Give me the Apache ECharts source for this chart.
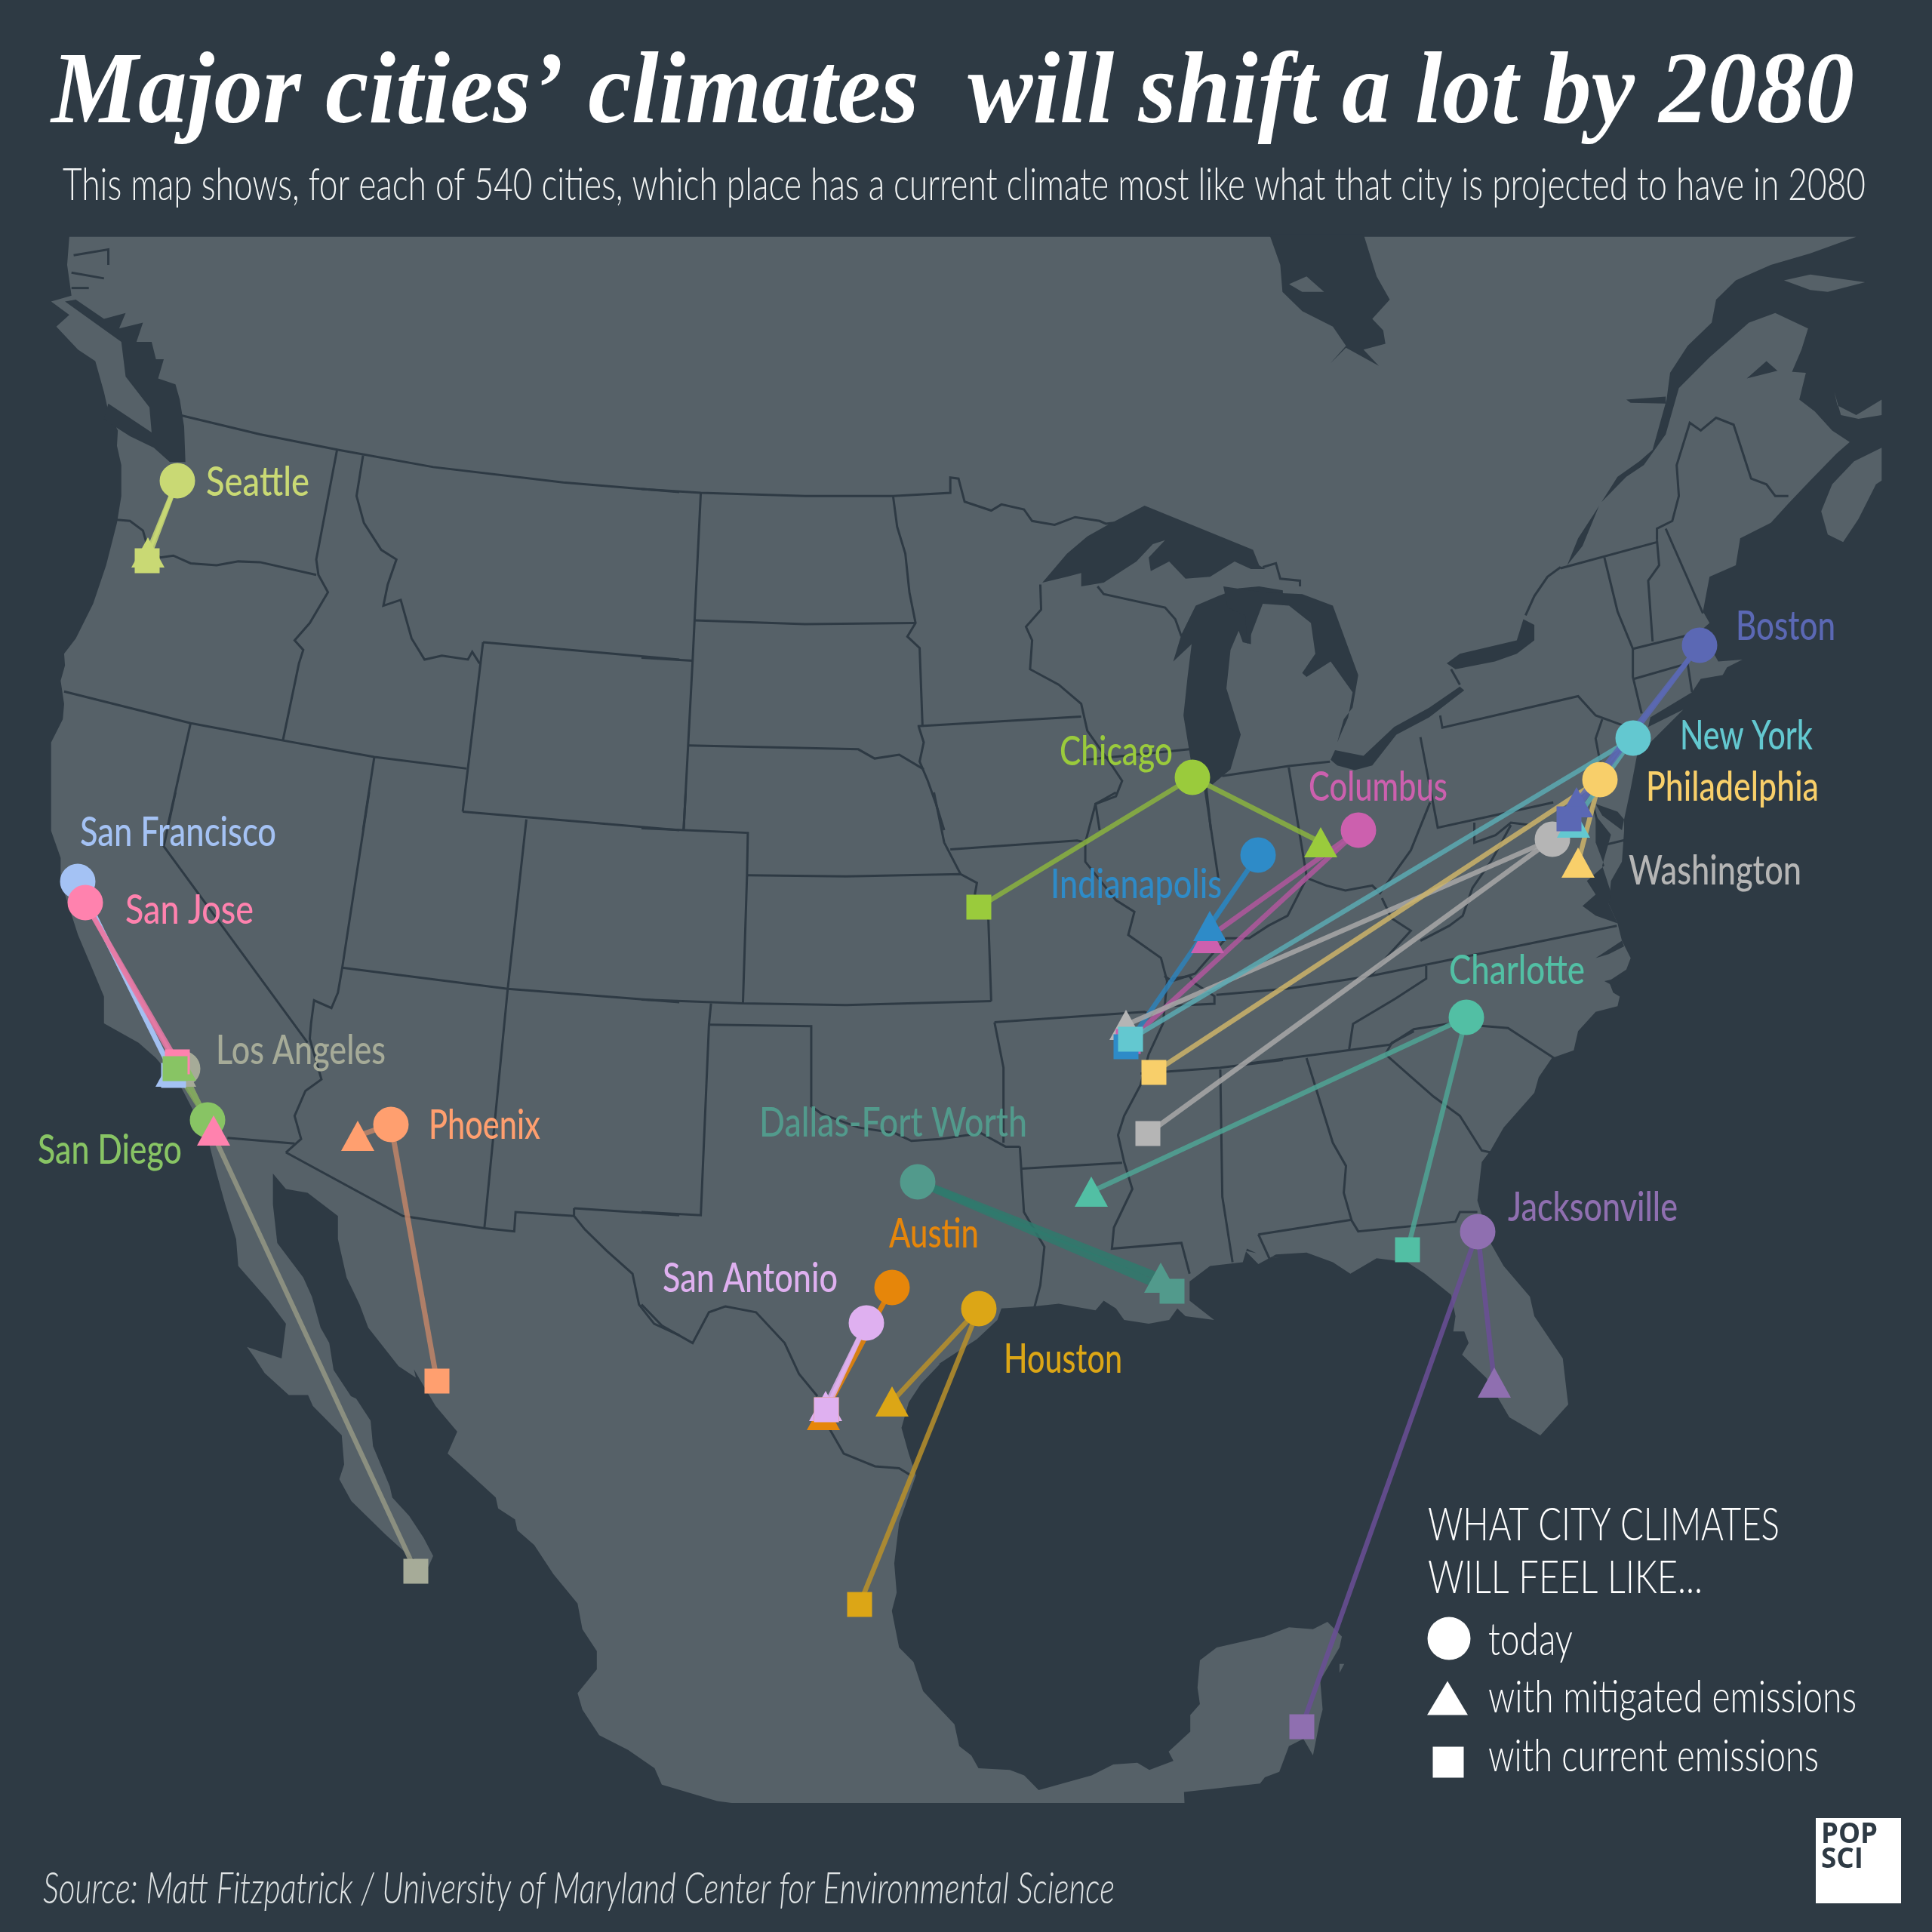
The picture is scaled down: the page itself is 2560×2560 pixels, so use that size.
<!DOCTYPE html>
<html><head><meta charset="utf-8">
<style>html,body{margin:0;padding:0;background:#2e3a44}#c{width:2560px;height:2560px}</style>
<script src="https://cdn.jsdelivr.net/npm/echarts@6/dist/echarts.min.js"></script>
</head><body><div id="c"></div>
<script>
// ---------- city data (map-plane units, 2560 wide) ----------
const cities = ['San Francisco','San Jose','Los Angeles','San Diego','Seattle','Phoenix','Dallas-Fort Worth','Houston','Austin','San Antonio','Jacksonville','Charlotte','Chicago','Columbus','Indianapolis','Washington','Philadelphia','New York','Boston'];
const todayPts = [[103,1168],[113,1196],[242,1416],[275,1484],[235,637],[518,1490],[1216,1566],[1297,1734],[1182,1706],[1148,1753],[1958,1632],[1943,1348],[1580,1030],[1800,1100],[1667,1133],[2057,1112],[2120,1033],[2164,978],[2252,855]];
const mitigatedPts = [[228,1420],[283,1498],[238,1420],[238,1412],[196,732],[474,1505],[1538,1693],[1182,1857],[1091,1875],[1094,1863],[1980,1832],[1446,1579],[1750,1116],[1600,1243],[1603,1227],[1492,1358],[2091,1143],[2085,1090],[2089,1063]];
const currentPts = [[230,1425],[235,1407],[551,2082],[232,1416],[195,743],[579,1830],[1553,1711],[1139,2126],[1095,1868],[1095,1868],[1725,2288],[1865,1656],[1297,1202],[1495,1380],[1492,1387],[1521,1502],[1529,1421],[1498,1377],[2079,1085]];
const markColors = ['#a4c2f4','#ff82ae','#a6ab98','#88c464','#c9d974','#ff9f6f','#529a8c','#dca616','#e6860a','#dfb0f0','#8f6fb0','#52bfa4','#9acb3c','#cc60ae','#2e8bc8','#b5b5b5','#f8cf6a','#63c8d0','#5b68b4'];
const lineColors = ['#a4c2f4','#e87aa6','#949885','#7fa85c','#c9d974','#c08568','#2f7a6d','#b8912a','#d88010','#dfb0f0','#6a4f96','#4fa595','#8ab340','#b0579e','#2e83ba','#a8a8a8','#cdb46a','#5aaab3','#5b68b4'];
const lineWidths = [6.5,6.5,6.5,6.5,6.5,7,10,6.5,6.5,6.5,6.5,6.5,6.5,6.5,6.5,6.5,6.5,6.5,6.5];
// city label: text, left, right, baseline
const cityLabels = [['Seattle',273,410,656],['San Francisco',106,366,1120],['San Jose',166,336,1223],['Los Angeles',286,511,1409],['Phoenix',568,716,1508],['San Diego',50,241,1541],['Dallas-Fort Worth',1006,1361,1505],['Austin',1178,1297,1652],['San Antonio',878,1110,1711],['Houston',1330,1487,1818],['Jacksonville',1998,2223,1617],['Charlotte',1920,2100,1303],['Washington',2158,2387,1171],['Philadelphia',2181,2410,1060],['New York',2226,2402,992],['Boston',2300,2432,847],['Columbus',1734,1918,1060],['Indianapolis',1392,1619,1189],['Chicago',1404,1554,1013]];
const labelColors = {'Seattle':'#c9d974','San Francisco':'#a4c2f4','San Jose':'#ff82ae','Los Angeles':'#a6ab98','Phoenix':'#ff9f6f','San Diego':'#88c464','Dallas-Fort Worth':'#529a8c','Austin':'#e6860a','San Antonio':'#dfb0f0','Houston':'#dca616','Jacksonville':'#8f6fb0','Charlotte':'#52bfa4','Washington':'#b5b5b5','Philadelphia':'#f8cf6a','New York':'#63c8d0','Boston':'#5b68b4','Columbus':'#cc60ae','Indianapolis':'#2e8bc8','Chicago':'#9acb3c'};
const titleText = 'Major cities\u2019 climates  will shift a lot by 2080';
const subtitleText = 'This map shows, for each of 540 cities, which place has a current climate most like what that city is projected to have in 2080';
const sourceText = 'Source: Matt Fitzpatrick / University of Maryland Center for Environmental Science';
const legendTitle = ['WHAT CITY CLIMATES','WILL FEEL LIKE...'];
const legendItems = ['today','with mitigated emissions','with current emissions'];
const logoText = ['POP','SCI'];

const crops = {1:[0,300,1.742,1.96],2:[850,300,1.845,1.96],3:[1650,300,1.723,1.96],4:[0,1050,1.742,1.96],5:[850,1050,1.845,1.96],6:[1650,1050,1.723,1.96],7:[0,1800,1.568,2.063],8:[1000,1800,1.568,2.063],9:[1800,1900,2.063,2.376],12:[1400,950,1.96,3],0:[0,0,1,1]};
function P(c, a){const k=crops[c],o=[];for(let i=0;i<a.length;i+=2)o.push([k[0]+a[i]/k[2],k[1]+a[i+1]/k[3]]);return o;}
const landMain = [].concat(
 P(1,[160,27]),
 P(3,[1395,27,1290,70,1200,100,1120,140,1075,190,1065,250,1010,310,970,380,962,450,930,580,900,610,850,650,800,740,760,810,735,880,770,830,810,720,870,650,910,620,960,540,990,420,1060,340,1150,250,1210,225,1285,265,1270,320,1240,400,1190,350,1145,395,1215,375,1280,380,1265,450,1300,480,1340,530,1380,560,1350,590,1290,660,1240,720,1200,770,1130,810,1120,880,1060,910,1045,1000,1060,1030,1040,1050,1080,1130,1135,1125,1100,1145,1090,1165,1040,1175,1020,1210,925,1275,920,1300,1000,1255,925,1340,895,1370,880,1460,865,1540]),
 P(6,[865,100,860,180,835,230,830,290,850,340,860,385,880,430,870,460,830,490,840,520,855,530,850,555,800,570,760,620,750,670,700,690,670,740,660,780,590,870,560,930,540,960,530,1060,560,1170,590,1230,650,1310,660,1360,725,1470,735,1568]),
 P(0,[2078,1861,2041,1902,2000,1878]),
 P(6,[550,1520,495,1460,510,1430,500,1400,475,1400,480,1360,470,1305,410,1250,370,1220,300,1210,240,1250,200,1220,140,1195,70,1200,30,1225,0,1190]),
 P(5,[1560,1210,1510,1200,1480,1185,1470,1220,1390,1230,1340,1270,1340,1320,1400,1370,1330,1360,1310,1340,1290,1370,1240,1380,1180,1370,1160,1340,1130,1320,1110,1345,1020,1328,960,1335,880,1340,870,1370,820,1420,727,1484]),
 P(8,[385,15,345,70,320,120,305,190,320,260,335,320,300,450,290,560,295,640,285,690,300,790,330,830,350,910,415,1000,425,1060,450,1085,465,1120,530,1125,560,1140,590,1180,700,1140,745,1110,795,1105,820,1125,870,1100,860,1075,905,1020,905,975,925,945,920,900,925,825,960,790,1060,760,1110,735,1160,740,1190,720,1220,760,1215,790,1175,880,1180,960,1175,985,1160,1085,1140,1040,1110,1060,1090,1130,1060,1145,1050,1162,892,1185,893,1215]),
 P(7,[1520,1215,1490,1210,1375,1165,1360,1120,1305,1070,1245,1030,1210,960,1200,915,1240,850,1240,800,1210,740,1200,670,1150,590,1110,510,1075,470,1070,440,1035,410,1030,380,980,320,930,260,950,200,905,130,860,30]),
 P(4,[960,1520,920,1490,850,1390,830,1330,800,1260,780,1160,780,1100,710,1040,660,1030,630,990,630,1070,640,1170,700,1260,720,1310,740,1390,760,1430,770,1500,810,1568]),
 P(7,[740,110,770,170,775,240,810,350,815,380,850,430,880,490,900,540,890,570,850,540,800,480,730,390,705,330,715,290,710,210,650,130,640,100,600,100,550,40,530,0]),
 P(4,[589,1470,570,1440,650,1470,660,1380,620,1320,550,1230,545,1160,520,1070,500,990,480,900,420,770,360,690,320,650,240,600,240,530,210,450,180,370,140,230,140,170,118,100,118,0]),
 P(1,[118,1340,145,1280,148,1240,140,1180,150,1140,148,1110,175,1070,215,980,245,880,270,770,280,700,280,620,270,570,272,530,250,480,240,430,220,350,180,320,130,260,160,230,118,195,165,180,155,100])
);
const waterShapes = [
 P(1,[150,195,175,190,240,240,290,225,275,265,330,250,315,300,350,300,360,345,378,345,365,395,405,410,415,450,425,520,428,612,392,612,355,575,300,545,272,525,240,500,250,460,350,535,345,470,290,390,280,300]),
 P(3,[55,20,80,100,85,170,130,220,200,260,230,310,195,355,230,315,305,362,270,320,320,305,315,270,290,240,330,190,300,130,270,20]),
 P(2,[980,925,1040,850,1090,805,1140,775,1230,725,1495,840,1510,880,1525,890,1490,890,1450,870,1390,910,1330,915,1290,870,1245,895,1240,860,1280,815,1250,825,1210,870,1130,925,1075,935,1075,900,1040,910]),
 P(2,[1345,1085,1300,1130,1320,1060,1355,985,1410,960,1460,940,1510,935,1568,945,1568,975,1525,970,1490,1020,1490,1085,1470,1080,1460,1050,1440,1100,1430,1200,1465,1320,1440,1410,1395,1450,1345,1400,1325,1270,1335,1170]),
 P(3,[-50,935,40,950,130,955,200,985,258,1165,245,1250,225,1280,215,1320,210,1340,235,1275,245,1210,195,1130,140,1170,130,1160,160,1110,150,1030,100,985,40,980,5,1085,0,1010,-40,990]),
 P(3,[195,1385,205,1360,270,1375,340,1300,420,1250,490,1195,500,1205,420,1275,345,1320,290,1400,250,1412,210,1400]),
 P(3,[460,1135,490,1110,620,1075,635,1020,660,1035,660,1075,620,1110,570,1130,480,1150]),
 P(3,[870,450,960,442,960,460,880,458]),
 P(3,[800,1500,850,1520,865,1540,860,1568,815,1530]),
 P(6,[800,60,835,110,815,190,835,260,830,290,850,340,800,320,770,295,800,265,780,230,820,190,800,130]),
 P(6,[800,430,860,385,865,400,830,420]),
 P(6,[820,490,860,480,845,505])
];
const landBits = [
 P(3,[1453,575,1390,610,1340,670,1315,740,1330,800,1365,820,1400,760,1440,670,1453,660]),
 P(3,[1345,430,1352,465,1395,490,1453,450,1453,490,1400,500,1360,490]),
 P(3,[1230,140,1290,125,1415,145,1330,170,1290,165]),
 P(3,[100,150,140,130,180,170,130,170]),
 P(8,[1215,835,1225,835,1215,860])
];
const borders = [
 P(1,[170,75,250,60,250,100]), P(1,[165,120,240,135]), P(1,[165,160,205,160]),
 P(1,[415,490,600,540,780,580,1000,625,1300,665,1568,690]),
 P(2,[0,682,145,692,400,700,615,700,755,692,755,652,775,655,790,715,855,738,880,722,935,735,955,765,1010,775,1060,755,1120,765,1135,772,1170,768]),
 P(1,[270,762,300,765,330,790,340,830,370,860,400,855,440,875,500,880,550,870,600,872,730,905]),
 P(1,[778,580,730,865,735,905,757,950,715,1030,680,1075,700,1100,690,1135,653,1335]),
 P(1,[148,1208,440,1290,653,1335,864,1378,1077,1408]),
 P(1,[838,595,823,700,840,770,880,840,915,865,895,930,885,985,925,970,950,1070,980,1125,1020,1115,1080,1125,1090,1105,1107,1135]),
 P(1,[1115,1080,1568,1125]), P(2,[0,1120,125,1128]),
 P(1,[1115,1080,1068,1520]), P(4,[1068,50,1568,98]), P(5,[0,93,260,105,258,215,248,548]),
 P(2,[145,692,125,1128,103,1568]), P(5,[108,0,103,97]),
 P(1,[864,1378,838,1568]), P(4,[852,0,790,455,780,520,765,560,725,540,718,600,715,640,742,745,705,775,680,840,695,900,660,935]),
 P(1,[440,1290,385,1568]), P(4,[405,0,378,140,710,650]),
 P(4,[525,897,680,912]),
 P(4,[660,935,930,1100,1118,1132,1187,1140,1190,1090,1325,1100]),
 P(4,[1325,1080,1325,1100,1350,1135,1400,1190,1460,1250,1475,1330,1510,1380,1568,1410]),
 P(5,[0,1330,50,1385,125,1430,165,1350,205,1335,280,1350,350,1430,385,1510,430,1568]),
 P(8,[150,180,185,260,250,295,300,300,325,320]),
 P(4,[790,455,1172,510,1568,545]), P(5,[0,538,248,548,500,552,855,542]),
 P(4,[1215,70,1172,510,1118,1132]),
 P(5,[170,548,165,603,145,1098,0,1090]), P(4,[1325,1080,1568,1098]),
 P(5,[165,603,415,607,415,815,440,835,530,870,620,885,660,905,730,900,830,885,890,920,925,920]),
 P(5,[258,215,500,218,780,212,820,235,815,265,848,330,855,542]),
 P(2,[678,1300,690,1340,680,1390,700,1440,720,1500,740,1568]), P(5,[715,0,740,130,780,212]),
 P(2,[130,1023,400,1033,668,1030]),
 P(2,[615,700,625,780,645,850,655,950,670,1030,650,1065,680,1095,687,1297]),
 P(2,[675,1298,1075,1273]),
 P(2,[115,1348,530,1358,570,1382,630,1372,690,1410]),
 P(2,[975,930,977,995,940,1040,955,1075,950,1150,1020,1190,1075,1240,1090,1310,1150,1400,1175,1440,1160,1480,1110,1500,1120,1568]),
 P(5,[1160,0,1110,30,1085,130,1085,180,1160,280,1205,310,1190,370,1270,430,1285,490,1275,600,1240,680,1220,760,1180,840,1165,890,1180,960,1200,1030,1155,1130,1150,1185,1320,1170,1340,1250]),
 P(2,[1115,935,1130,955,1280,990,1305,1020,1320,1065]),
 P(2,[1085,1385,1340,1358]),
 P(5,[755,148,1065,125,1085,130]),
 P(2,[1380,1450,1392,1568]), P(12,[385,280,420,640]),
 P(12,[280,1030,300,1050,360,1020,400,950,440,880,500,880,550,830,600,790,650,640,700,670,750,690,820,670,840,700,920,530,970,340]),
 P(12,[945,80,990,440,1290,340]),
 P(12,[603,200,650,640]), P(12,[430,235,603,195,710,178]),
 P(3,[445,1270,450,1302,760,1220,800,1270,860,1295]),
 P(3,[815,1280,800,1330,810,1390,830,1420,800,1480]),
 P(3,[720,888,940,820]), P(3,[820,860,850,1000,885,1097,885,1170,905,1265]),
 P(3,[885,1097,1035,1055]), P(3,[888,1175,1010,1135,1020,1210]),
 P(3,[940,815,945,880,920,920,930,1078]), P(3,[960,785,1045,1005]),
 P(3,[940,815,940,785,975,765,990,700,985,620,1015,510,1040,530,1075,497,1115,515,1155,655,1190,670,1210,700,1240,700]),
 P(3,[640,1010,660,960,690,910,720,885]), P(3,[470,1150,490,1190]),
 P(3,[40,885,70,875,80,915,125,920,125,935]),
 P(12,[1395,360,1420,510,1475,490]),
 P(12,[1085,420,1085,500,1140,470,1180,420,1230,430]),
 P(12,[945,890,1020,830,1055,790,1080,680,1130,570,1180,430]),
 P(12,[845,720,870,800,920,850,860,950,815,1030]),
 P(12,[300,1040,345,1030,360,1060,410,1110,410,1140,280,1150]),
 P(12,[415,1105,600,1080,815,1030,1455,830]),
 P(12,[960,990,960,1040,880,1120,770,1220,760,1320]),
 P(5,[863,597,885,715,885,910]), P(5,[863,597,1230,570,1250,580]),
 P(5,[930,977,1175,962]),
 P(5,[925,920,935,1090,985,1180,975,1280,960,1340]),
 P(5,[1220,730,1415,715,1568,695]),
 P(5,[1415,720,1420,1050,1445,1220]),
 P(6,[0,705,330,655,385,615,470,600,600,612,705,690]),
 P(6,[140,690,200,910,230,970,225,1040,243,1112,258,1140,480,1115,490,1090,530,1090]),
 P(6,[30,1148,243,1110]), P(6,[30,1148,55,1210]),
 P(6,[320,680,380,740,430,790,490,840,540,930,560,935]), P(6,[320,680,335,650,385,620])
];

// ---------- text ----------
const BG='#2e3a44', LAND='#566168';
const measure = document.createElement('canvas').getContext('2d');
function fit(text,font,x0,x1){measure.font=font;return (x1-x0)/measure.measureText(text).width;}
const LIGHT='300 60px Lato', LABEL='500 54px Lato';
const textRows = [];
cityLabels.forEach(l=>textRows.push({t:l[0],x0:l[1],x1:l[2],b:l[3],font:LABEL,size:54,fill:labelColors[l[0]]}));
textRows.push({t:titleText,x0:68,x1:2457,b:168,font:'italic 700 136px "Liberation Serif"',size:136,fill:'#ffffff'});
textRows.push({t:subtitleText,x0:83,x1:2472,b:264,font:LIGHT,size:60,fill:'#f2f4f4'});
textRows.push({t:sourceText,x0:57,x1:1477,b:2521,font:'italic 300 58px Lato',size:58,fill:'#dfe3e4'});
textRows.push({t:legendTitle[0],x0:1892,x1:2358,b:2040,font:'300 62px Lato',size:62,fill:'#ffffff'});
textRows.push({t:legendTitle[1],x0:1892,x1:2256,b:2110,font:'300 62px Lato',size:62,fill:'#ffffff'});
textRows.push({t:legendItems[0],x0:1972,x1:2084,b:2192,font:LIGHT,size:60,fill:'#ffffff'});
textRows.push({t:legendItems[1],x0:1972,x1:2460,b:2268,font:LIGHT,size:60,fill:'#ffffff'});
textRows.push({t:legendItems[2],x0:1972,x1:2410,b:2346,font:LIGHT,size:60,fill:'#ffffff'});
const logoRows=[{t:logoText[0],x0:2413,x1:2488,b:2443,font:'700 37px "Open Sans"',size:37,fill:BG},{t:logoText[1],x0:2413,x1:2469,b:2476,font:'700 37px "Open Sans"',size:37,fill:BG}];

const noAxis={show:false};
function polySeries(shapes,fill,z){return {type:'custom',coordinateSystem:'cartesian2d',silent:true,clip:false,z,data:shapes.map((_,i)=>[i,0]),
  renderItem:(p,api)=>({type:'polygon',shape:{points:shapes[p.dataIndex].map(c=>api.coord(c))},style:{fill}})};}
const symbolOpts=(pts,symbol,size,z)=>({type:'scatter',silent:true,z,symbol,symbolSize:size,clip:false,animation:false,
  data:pts.map((c,i)=>({value:c,itemStyle:{color:markColors[i],opacity:1}}))});
const linkData=[];
cities.forEach((n,i)=>{[mitigatedPts[i],currentPts[i]].forEach(t=>linkData.push({coords:[todayPts[i],t],lineStyle:{color:lineColors[i],width:lineWidths[i],opacity:0.85,curveness:0}}));});
function textSeries(rows,z){return {type:'custom',coordinateSystem:'cartesian2d',silent:true,clip:false,z,data:rows.map((_,i)=>[i,0]),
  renderItem:(p,api)=>{const r=rows[p.dataIndex],c=api.coord([r.x0,r.b]);
   return {type:'text',x:c[0],y:c[1]-r.size*0.30,scaleX:fit(r.t,r.font,r.x0,r.x1),originX:0,originY:0,
     style:{text:r.t,x:0,y:0,font:r.font,fill:r.fill,align:'left',verticalAlign:'middle'}};}};}

const logoBox=[[2406,2409],[2519,2409],[2519,2522],[2406,2522]];
const whiteMark={color:'#fff',opacity:1};
const chart=echarts.init(document.getElementById('c'),null,{renderer:'canvas',width:2560,height:2560});
chart.setOption({
 animation:false,backgroundColor:BG,
 grid:{left:0,right:0,top:0,bottom:0},
 xAxis:{type:'value',min:0,max:2560,...noAxis},
 yAxis:{type:'value',min:0,max:2560,inverse:true,...noAxis},
 series:[
  polySeries([landMain],LAND,1),
  {type:'custom',coordinateSystem:'cartesian2d',silent:true,clip:false,z:2,data:borders.map((_,i)=>[i,0]),
   renderItem:(p,api)=>({type:'polyline',shape:{points:borders[p.dataIndex].map(c=>api.coord(c))},style:{stroke:BG,lineWidth:3,fill:null}})},
  polySeries(waterShapes,BG,3),
  polySeries(landBits,LAND,4),
  {type:'lines',coordinateSystem:'cartesian2d',silent:true,z:5,data:linkData},
  symbolOpts(todayPts,'circle',47,6),
  symbolOpts(mitigatedPts,'triangle',[44,40],7),
  symbolOpts(currentPts,'rect',33,8),
  {type:'scatter',silent:true,z:8,clip:false,symbol:'circle',symbolSize:57,itemStyle:whiteMark,data:[[1920,2171]]},
  {type:'scatter',silent:true,z:8,clip:false,symbol:'triangle',symbolSize:[54,45],itemStyle:whiteMark,data:[[1918,2250]]},
  {type:'scatter',silent:true,z:8,clip:false,symbol:'rect',symbolSize:41,itemStyle:whiteMark,data:[[1919,2335]]},
  polySeries([logoBox],'#ffffff',9),
  textSeries(textRows,10),
  textSeries(logoRows,11)
 ]
});
</script></body></html>
